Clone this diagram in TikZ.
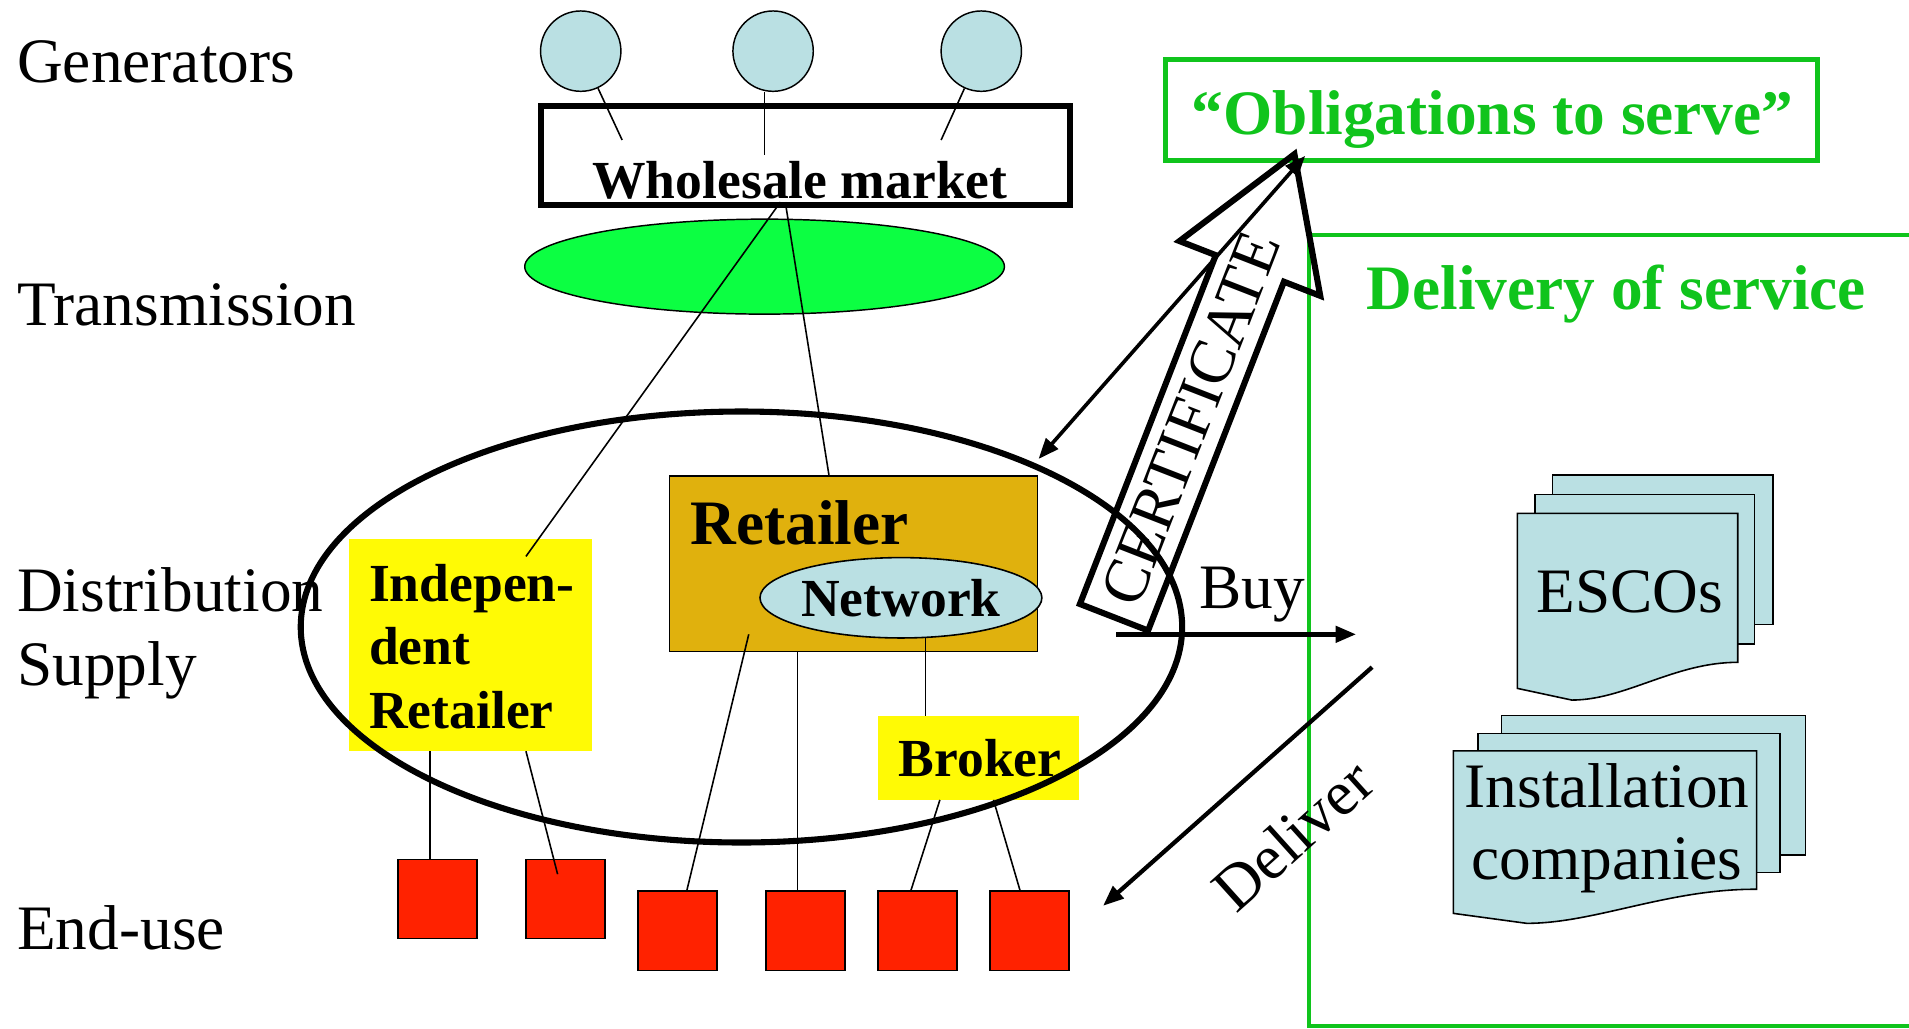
\documentclass[tikz,border=0pt]{standalone}
\usepackage{fontspec}
\setmainfont{Liberation Serif}
\usetikzlibrary{shapes.geometric,arrows.meta}
\definecolor{lblue}{HTML}{BAE0E3}
\definecolor{rsq}{HTML}{FF2200}
\definecolor{ylw}{HTML}{FFFA05}
\definecolor{gold}{HTML}{E0B10D}
\definecolor{bgreen}{HTML}{0CFF42}
\definecolor{gtext}{HTML}{10C41C}
\begin{document}
\begin{tikzpicture}[x=1pt,y=-1pt,
  >={Triangle[length=17pt,width=13pt]},
  lab/.style={font=\fontsize{52}{62}\selectfont, inner sep=0, anchor=base west},
  bt/.style={font=\fontsize{44}{52}\selectfont\bfseries, inner sep=0},
  gt/.style={font=\fontsize{52}{62}\selectfont\bfseries, text=gtext, inner sep=0, anchor=base},
  link/.style={line width=1.3pt},
  gen/.style={ellipse, draw, line width=1.2pt, fill=lblue, minimum width=66pt, minimum height=66pt, inner sep=0},
  enduse/.style={draw, line width=1.3pt, fill=rsq, minimum width=65pt, minimum height=65pt, inner sep=0},
  ybox/.style={fill=ylw, inner sep=0},
  sheet/.style={draw, line width=1.3pt, fill=lblue, line join=miter}
]
\useasboundingbox (0,0) rectangle (1568,844.4);

% ---------- left labels ----------
\node[lab] (lgen) at (14,68) {Generators};
\node[lab] (ltra) at (14,267) {Transmission};
\node[lab] (ldis) at (14,502) {Distribution};
\node[lab] (lsup) at (14,563) {Supply};
\node[lab] (lend) at (14,780) {End-use};

% ---------- generators and wholesale market ----------
\node[gen] (g1) at (477,42) {};
\node[gen] (g2) at (635,42) {};
\node[gen] (g3) at (806,42) {};
\node[draw, line width=5pt, minimum width=435pt, minimum height=81pt, inner sep=0] (wm) at (661.5,127.5) {};
\coordinate (m1) at (511,115);
\coordinate (m2) at (628,127);
\coordinate (m3) at (773,115);
\draw[link] (g1) -- (m1);
\draw[link] (m2 |- g2.south) -- (m2);
\draw[link] (g3) -- (m3);
\node[bt, anchor=base] (wmt) at (657,163) {Wholesale market};

% transmission
\node[ellipse, draw, line width=1.2pt, fill=bgreen, minimum width=394pt, minimum height=78pt, inner sep=0] (tr) at (628,219) {};

% ---------- obligations / delivery ----------
\node[draw=gtext, line width=4pt, minimum width=536pt, minimum height=83pt, inner sep=0] (obl) at (1225,90.5) {};
\node[gt] (oblt) at (1226,110.5) {“Obligations to serve”};
\draw[gtext, line width=3.5pt] (1575,193) -- (1075,193) -- (1075,843) -- (1575,843);
\node[gt] (delt) at (1327.5,254) {Delivery of service};

% ---------- distribution boxes ----------
\node[ybox, minimum width=199pt, minimum height=174pt] (ir) at (386.5,530) {};
\node[bt, anchor=base west] (irt1) at (303,494) {Indepen-};
\node[bt, anchor=base west] (irt2) at (303,546) {dent};
\node[bt, anchor=base west] (irt3) at (303,598) {Retailer};

\node[draw, line width=1.3pt, fill=gold, minimum width=302pt, minimum height=144pt, inner sep=0] (ret) at (701,463) {};
\node[font=\fontsize{52}{60}\selectfont\bfseries, inner sep=0, anchor=base west] (rett) at (567,447) {Retailer};
\node[ellipse, draw, line width=1.3pt, fill=lblue, minimum width=224pt, minimum height=66pt, inner sep=0, bt] (net) at (740,491) {Network};

\node[ybox, minimum width=165pt, minimum height=69pt] (brk) at (803.5,622.5) {};
\node[bt, anchor=base west] (brkt) at (738,638) {Broker};

% ---------- end use ----------
\node[enduse] (e1) at (359.5,738.5) {};
\node[enduse] (e2) at (464.5,738.5) {};
\node[enduse] (e3) at (556.5,764.5) {};
\node[enduse] (e4) at (661.5,764.5) {};
\node[enduse] (e5) at (753.5,764.5) {};
\node[enduse] (e6) at (845.5,764.5) {};

% ---------- certificate block arrow ----------
\draw[line width=5pt, line join=miter] (887,496.1) -- (998.6,209.6) -- (968.8,198) -- (1063.2,126.6) -- (1084.4,243) -- (1054.6,231.4) -- (943,517.9) -- cycle;
\node[font=\fontsize{52}{60}\selectfont, inner sep=0, rotate=68.7] (cert) at (978,344) {CERTIFICATE};

% big distribution ellipse
\node[ellipse, draw, line width=5pt, minimum width=724pt, minimum height=354pt, inner sep=0] (dist) at (609,515) {};

% ---------- thin connectors ----------
\coordinate (wa) at (641,166);
\coordinate (wb) at (645,166);
\coordinate (irtop) at (432,457);
\coordinate (rettop) at (681,391);
\draw[link] (wa) -- (irtop);
\draw[link] (wb) -- (rettop);

\coordinate (c1) at (353,617);
\draw[link] (c1) -- (c1 |- e1.north);
\coordinate (c2a) at (432,617);
\coordinate (c2b) at (458,718);
\draw[link] (c2a) -- (c2b);
\coordinate (c3a) at (615,521);
\coordinate (c3b) at (564,732);
\draw[link] (c3a) -- (c3b);
\coordinate (c4) at (655,535);
\draw[link] (c4) -- (c4 |- e4.north);
\coordinate (c5) at (760,523);
\draw[link] (c5) -- (c5 |- brk.north);
\coordinate (c6a) at (772,657);
\coordinate (c6b) at (748,732);
\draw[link] (c6a) -- (c6b);
\coordinate (c7a) at (816,657);
\coordinate (c7b) at (838,732);
\draw[link] (c7a) -- (c7b);

% ---------- arrows ----------
\coordinate (da) at (853,377);
\coordinate (db) at (1072,128);
\draw[line width=3pt, <->] (da) -- (db);

\coordinate (buys) at (917,521);
\coordinate (buye) at (1114,521);
\draw[line width=4pt, ->] (buys) -- (buye);
\node[lab] (buyt) at (985,500) {Buy};

\coordinate (dls) at (1127,548);
\coordinate (dle) at (906,744);
\draw[line width=3.5pt, ->] (dls) -- (dle);
\node[font=\fontsize{52}{60}\selectfont, inner sep=0, rotate=42] (dlt) at (1062,686) {Deliver};

% ---------- ESCOs stack ----------
\draw[sheet] (1275,390) rectangle (1456.5,513);
\draw[sheet] (1260.8,406) rectangle (1441,529);
\draw[sheet] (1246.3,421.6) -- (1427.3,421.6) -- (1427.3,544)
  .. controls (1375,544) and (1335,575) .. (1291,575) -- (1246.3,565.4) -- cycle;
\node[lab, anchor=base] (esc) at (1338.5,503) {ESCOs};

% ---------- installation companies stack ----------
\draw[sheet] (1233.4,587.8) rectangle (1483.1,702.3);
\draw[sheet] (1214.2,602.3) rectangle (1462,716.8);
\draw[sheet] (1193.7,616.8) -- (1442.8,616.8) -- (1442.8,730.4)
  .. controls (1370,730) and (1310,758.4) .. (1254,758.4) -- (1193.7,750.2) -- cycle;
\node[lab, anchor=base] (ins1) at (1320,663) {Installation};
\node[lab, anchor=base] (ins2) at (1320,722) {companies};
\end{tikzpicture}
\end{document}
